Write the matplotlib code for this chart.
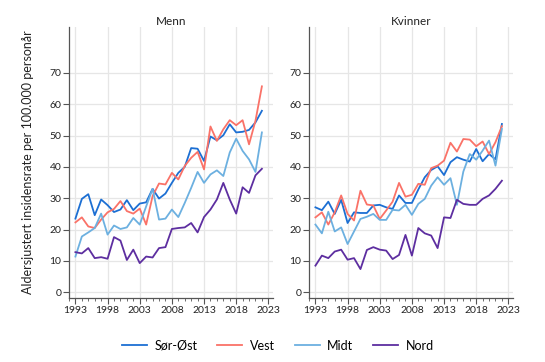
import matplotlib
matplotlib.use("Agg")
import matplotlib.pyplot as plt
from matplotlib.ticker import MultipleLocator

plt.rcParams['font.family'] = ['Lato', 'DejaVu Sans']

years = list(range(1993, 2023))

# Menn
menn_sorost = [23.5, 29.8, 31.3, 24.6, 29.6, 27.8, 25.6, 26.4, 29.4, 26.2,
               28.3, 28.7, 33.0, 29.9, 31.5, 34.9, 38.1, 40.0, 46.0, 45.8,
               41.9, 49.7, 48.5, 50.1, 53.6, 51.0, 51.2, 51.8, 54.2, 57.9]
menn_vest = [22.3, 23.9, 21.0, 20.5, 23.2, 25.5, 26.6, 29.1, 25.9, 25.1,
             26.7, 21.6, 30.7, 34.7, 34.4, 38.1, 36.0, 40.3, 42.9, 44.8,
             39.2, 52.9, 48.3, 52.0, 54.9, 53.3, 54.9, 47.2, 54.7, 65.7]
menn_midt = [11.4, 17.8, 19.1, 20.5, 25.1, 18.4, 21.3, 20.2, 20.7, 23.7,
             21.6, 27.4, 33.0, 23.2, 23.5, 26.4, 24.0, 28.5, 33.3, 38.4,
             34.9, 37.6, 38.9, 37.1, 44.6, 49.0, 45.1, 42.4, 38.4, 51.0]
menn_nord = [12.8, 12.4, 14.1, 10.9, 11.2, 10.7, 17.6, 16.5, 10.3, 13.6,
             9.3, 11.4, 11.1, 14.1, 14.4, 20.2, 20.5, 20.7, 22.1, 19.1,
             24.0, 26.4, 29.6, 34.9, 29.6, 25.1, 33.5, 31.7, 37.3, 39.4]

# Kvinner
kvinner_sorost = [27.1, 26.2, 28.9, 25.0, 29.5, 22.1, 25.5, 25.3, 25.3, 27.7,
                  27.9, 27.1, 26.6, 30.9, 28.5, 28.5, 32.8, 36.7, 39.0, 40.2,
                  37.4, 41.5, 43.1, 42.3, 41.7, 45.7, 41.8, 44.1, 42.4, 53.7]
kvinner_vest = [23.9, 25.5, 21.6, 25.5, 30.9, 25.0, 22.9, 32.4, 28.0, 27.7,
                23.4, 26.1, 28.9, 34.9, 30.5, 31.1, 34.6, 34.3, 39.6, 40.4,
                42.0, 47.7, 44.9, 48.9, 48.7, 46.6, 48.1, 44.1, 47.9, 53.0]
kvinner_midt = [21.6, 18.8, 25.7, 19.4, 20.7, 15.4, 19.4, 23.4, 24.1, 25.0,
                23.1, 23.1, 26.3, 26.1, 27.9, 24.7, 28.2, 29.8, 34.0, 36.7,
                34.3, 36.4, 27.9, 38.5, 44.1, 42.3, 45.2, 48.4, 40.4, 52.1]
kvinner_nord = [8.5, 11.7, 10.9, 13.0, 13.6, 10.4, 10.9, 7.4, 13.5, 14.4,
                13.6, 13.3, 10.6, 11.9, 18.3, 11.7, 20.5, 18.8, 18.1, 14.1,
                23.9, 23.7, 29.5, 28.2, 27.9, 27.9, 29.8, 30.9, 33.0, 35.6]

region_names = ['Sør-Øst', 'Vest', 'Midt', 'Nord']
region_colors = ['#1c6fd3', '#fa7268', '#6cb0e0', '#5d2ea0']

panels = [
    ('Menn', [menn_sorost, menn_vest, menn_midt, menn_nord]),
    ('Kvinner', [kvinner_sorost, kvinner_vest, kvinner_midt, kvinner_nord]),
]

fig = plt.figure(figsize=(5.45, 3.62), dpi=100)
ax_left = fig.add_axes([0.1266, 0.177, 0.374, 0.749])
ax_right = fig.add_axes([0.567, 0.177, 0.374, 0.749])

axis_color = '#555555'
for ax, (title, series) in zip([ax_left, ax_right], panels):
    for vals, name, col in zip(series, region_names, region_colors):
        ax.plot(years, vals, color=col, lw=1.3, label=name)
    ax.set_xlim(1992, 2023.7)
    ax.set_ylim(-1.8, 84.7)
    ax.set_xticks(range(1993, 2024, 5))
    ax.xaxis.set_minor_locator(MultipleLocator(1))
    ax.set_yticks(range(0, 71, 10))
    ax.grid(True, color='#e6e6e6', lw=0.9)
    ax.set_axisbelow(True)
    for s in ['top', 'right']:
        ax.spines[s].set_visible(False)
    for s in ['left', 'bottom']:
        ax.spines[s].set_color(axis_color)
        ax.spines[s].set_linewidth(0.9)
    ax.tick_params(axis='both', which='major', length=4, width=0.8,
                   color=axis_color, labelsize=7.5, labelcolor='#222222', pad=1.5)
    ax.tick_params(axis='x', which='minor', length=2, width=0.6, color=axis_color)
    ax.set_title(title, fontsize=8.5, pad=0, color='#222222')

ax_left.set_ylabel('Aldersjustert insidensrate per 100.000 personår',
                   fontsize=9, color='#222222', labelpad=11)

handles, labels = ax_left.get_legend_handles_labels()
fig.legend(handles, labels, loc='center', bbox_to_anchor=(0.51, 0.045),
           ncol=4, frameon=False, fontsize=9, handlelength=2.0,
           columnspacing=1.6, handletextpad=0.6)

fig.savefig('out.png', dpi=100)
